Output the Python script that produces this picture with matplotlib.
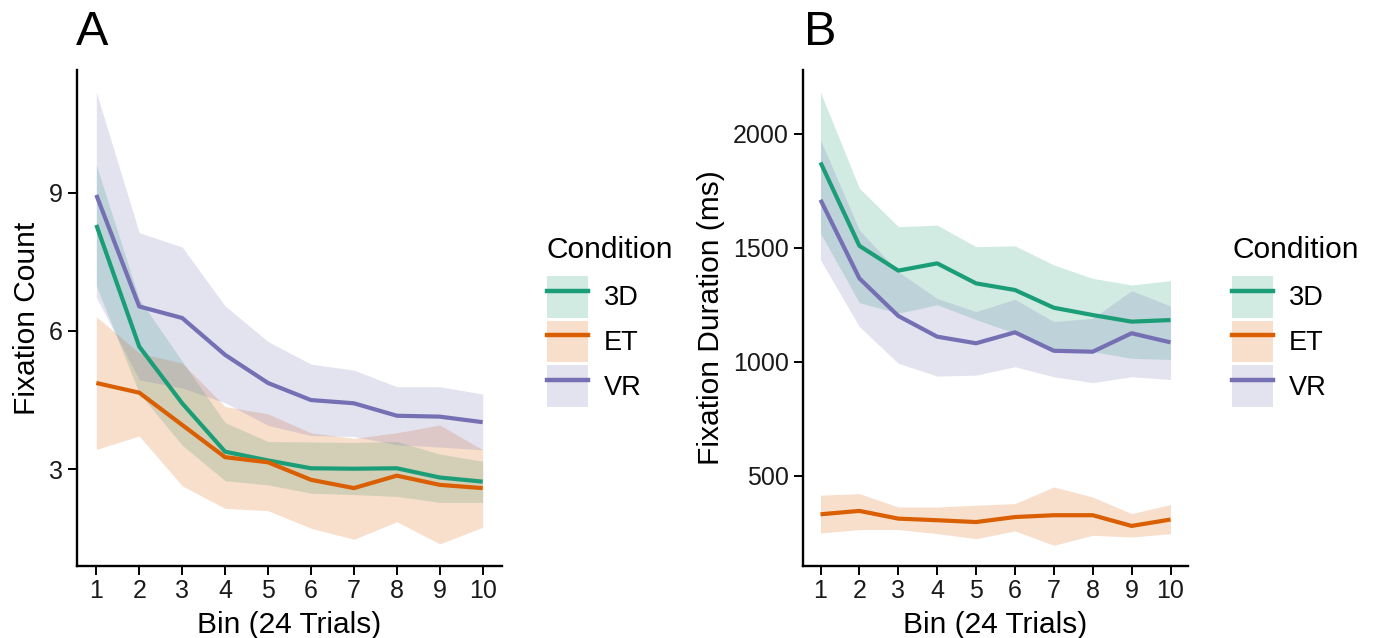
import matplotlib
matplotlib.use("Agg")
import matplotlib.pyplot as plt
from matplotlib.patches import Patch
from matplotlib.lines import Line2D

plt.rcParams['font.family'] = ['Liberation Sans', 'DejaVu Sans']

bins = [1, 2, 3, 4, 5, 6, 7, 8, 9, 10]
conditions = ["3D", "ET", "VR"]
colors = {"3D": "#1B9E77", "ET": "#D95F02", "VR": "#7570B3"}

# Panel A - fixation count (mean, upper, lower)
count_mean = {
    "3D": [8.30, 5.66, 4.43, 3.38, 3.19, 3.02, 3.01, 3.02, 2.82, 2.73],
    "ET": [4.87, 4.66, 3.96, 3.26, 3.15, 2.77, 2.59, 2.86, 2.66, 2.59],
    "VR": [8.95, 6.53, 6.28, 5.48, 4.87, 4.50, 4.43, 4.16, 4.14, 4.02],
}
count_upper = {
    "3D": [9.60, 6.69, 5.34, 4.01, 3.60, 3.59, 3.58, 3.60, 3.33, 3.17],
    "ET": [6.31, 5.52, 5.30, 4.36, 4.20, 3.79, 3.67, 3.79, 3.96, 3.42],
    "VR": [11.18, 8.13, 7.82, 6.54, 5.77, 5.28, 5.15, 4.79, 4.79, 4.63],
}
count_lower = {
    "3D": [6.98, 4.65, 3.52, 2.75, 2.66, 2.48, 2.45, 2.41, 2.28, 2.28],
    "ET": [3.43, 3.72, 2.64, 2.15, 2.10, 1.72, 1.48, 1.86, 1.38, 1.74],
    "VR": [6.73, 4.94, 4.76, 4.44, 3.95, 3.73, 3.71, 3.53, 3.48, 3.42],
}

# Panel B - fixation duration in ms (mean, upper, lower)
dur_mean = {
    "3D": [1875, 1509, 1400, 1432, 1344, 1315, 1237, 1205, 1176, 1183],
    "ET": [330, 345, 311, 304, 296, 318, 326, 326, 279, 307],
    "VR": [1711, 1366, 1201, 1110, 1081, 1129, 1048, 1044, 1125, 1085],
}
dur_upper = {
    "3D": [2183, 1762, 1593, 1600, 1505, 1509, 1425, 1366, 1337, 1356],
    "ET": [414, 421, 362, 362, 370, 377, 450, 406, 333, 373],
    "VR": [1974, 1578, 1395, 1278, 1220, 1274, 1176, 1191, 1312, 1245],
}
dur_lower = {
    "3D": [1564, 1259, 1213, 1250, 1185, 1125, 1050, 1044, 1015, 1010],
    "ET": [248, 263, 263, 245, 223, 257, 194, 238, 230, 245],
    "VR": [1447, 1154, 993, 937, 941, 978, 934, 908, 934, 922],
}

W, H = 1376, 638
fig = plt.figure(figsize=(W / 100, H / 100), dpi=100)


def px_axes(left, right, top, bottom):
    return fig.add_axes([left / W, 1 - bottom / H, (right - left) / W, (bottom - top) / H])


def draw_panel(ax, mean, upper, lower, ylim, yticks, ylabel):
    for c in conditions:
        ax.fill_between(bins, lower[c], upper[c], color=colors[c], alpha=0.2, lw=0)
    for c in conditions:
        ax.plot(bins, mean[c], color=colors[c], lw=3, solid_capstyle='butt')
    ax.set_xlim(0.55, 10.45)
    ax.set_ylim(*ylim)
    ax.set_xticks(bins)
    ax.set_yticks(yticks)
    for s in ["top", "right"]:
        ax.spines[s].set_visible(False)
    for s in ["left", "bottom"]:
        ax.spines[s].set_linewidth(1.7)
    ax.tick_params(axis='both', labelsize=18, width=1.4, length=6.5, color='black',
                   labelcolor='#1a1a1a', pad=3.5)
    ax.tick_params(axis='x', pad=2.5)
    ax.set_xlabel("Bin (24 Trials)", fontsize=21.5, labelpad=6)
    ax.set_ylabel(ylabel, fontsize=21.5, labelpad=6)


axA = px_axes(77, 502, 70, 566)
draw_panel(axA, count_mean, count_upper, count_lower, (0.90, 11.66), [3, 6, 9], "Fixation Count")

axB = px_axes(803, 1188, 70, 566)
draw_panel(axB, dur_mean, dur_upper, dur_lower, (103, 2281), [500, 1000, 1500, 2000],
           "Fixation Duration (ms)")

fig.text(92 / W, 1 - 45 / H, "A", fontsize=35, ha='center', va='baseline')
fig.text(820 / W, 1 - 45 / H, "B", fontsize=35, ha='center', va='baseline')

handles = [(Patch(facecolor=colors[c], alpha=0.2, edgecolor='none'),
            Line2D([], [], color=colors[c], lw=3.2)) for c in conditions]

# legend for each panel: title drawn as text, keys as boxes with line on top
for x0 in (547, 1232):
    fig.text(x0 / W, 1 - 258 / H, "Condition", fontsize=21.5, ha='left', va='baseline')
    fig.legend(handles, conditions, loc='upper left',
               bbox_to_anchor=(x0 / W, 1 - 276 / H), bbox_transform=fig.transFigure,
               frameon=False, fontsize=19.5, handlelength=1.51,
               handleheight=1.985, labelspacing=0.11,
               handletextpad=0.6, borderpad=0, borderaxespad=0)

fig.savefig("out.png", dpi=100)
